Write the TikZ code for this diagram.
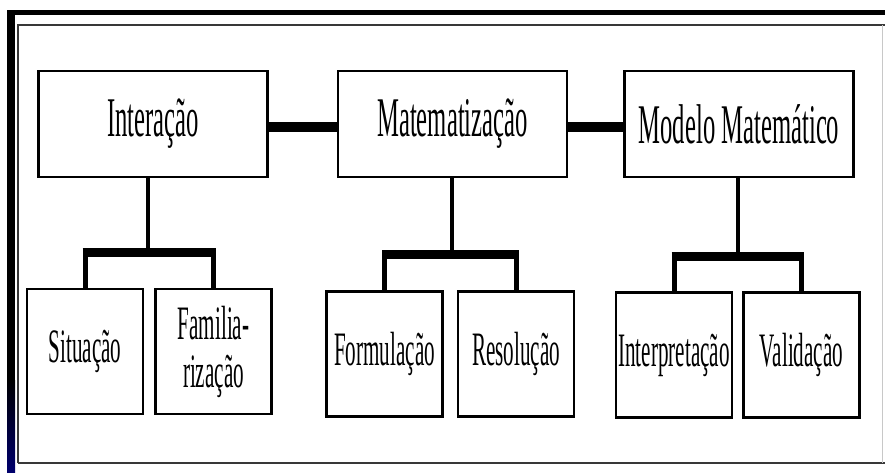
\documentclass[tikz,border=0pt]{standalone}
\usepackage{fontspec}
\setmainfont{Liberation Serif}
\newfontfamily\narrowserif[FakeStretch=0.44]{Liberation Serif}
\usepackage{tikz}
\usetikzlibrary{positioning,calc}
\definecolor{FrameNavy}{HTML}{00006E}
\definecolor{FrameGrey}{HTML}{383838}
\definecolor{EdgeGrey}{HTML}{C8C8C8}
\tikzset{
  % Top level box
  TB/.style={rectangle,draw=black,line width=2.5pt,fill=white,
             minimum width=229pt,minimum height=106pt,inner sep=2pt,
             text centered,align=center,
             font=\narrowserif\fontsize{56}{56}\selectfont},
  % Sub box
  SB/.style={rectangle,draw=black,line width=2.5pt,fill=white,
             minimum width=116pt,minimum height=125pt,inner sep=2pt,
             text centered,align=center,
             font=\narrowserif\fontsize{48}{48}\selectfont},
  % Connectors
  link/.style={line width=10pt},
  stem/.style={line width=4.5pt},
  bar/.style={line width=9pt,shorten <=-2.5pt,shorten >=-2.5pt},
  leg/.style={line width=5pt}
}
\begin{document}
\begin{tikzpicture}[x=1pt,y=-1pt]
  \useasboundingbox (0,0) rectangle (885,473);
  % Frame
  \fill[black] (7,10) rectangle (885,15);
  \fill[black] (7,10) rectangle (15,473);
  \shade[top color=black,bottom color=FrameNavy] (7,380) rectangle (15,473);
  \draw[line width=2.5pt,FrameGrey] (18,463) -- (18,25) -- (885,25);
  \draw[line width=2.5pt,FrameGrey] (18,463) -- (885,463);
  \draw[line width=1pt,EdgeGrey] (882,25) -- (882,463);

  % Top row
  \node[TB] (inter)  at (153,124) {Interação};
  \node[TB] (matem)  at (452.5,124) {Matematização};
  \node[TB] (modelo) at (739,124) {Modelo Matemático};
  \draw[link] ([yshift=-3pt]inter.east) -- ([yshift=-3pt]matem.west);
  \draw[link] ([yshift=-3pt]matem.east) -- ([yshift=-3pt]modelo.west);

  % Bottom row
  \node[SB] (situ)   at (85,351.5)  {Situação};
  \node[SB] (famil)  at (213.5,351.5) {Familia-\\rização};
  \node[SB] (formul) at (384.5,354) {Formulação};
  \node[SB] (resol)  at (516,354)   {Resolução};
  \node[SB] (interp) at (674,355)   {Interpretação};
  \node[SB] (valid)  at (801.5,355) {Validação};

  % Forks
  \coordinate (ihub) at (148,252.5);
  \coordinate (mhub) at (452,254);
  \coordinate (rhub) at (738,256);
  \draw[stem] (inter.south -| ihub) -- (ihub);
  \draw[stem] (matem.south -| mhub) -- (mhub);
  \draw[stem] (modelo.south -| rhub) -- (rhub);
  \draw[bar] (situ.north |- ihub) -- (famil.north |- ihub);
  \draw[bar] (formul.north |- mhub) -- (resol.north |- mhub);
  \draw[bar] (interp.north |- rhub) -- (valid.north |- rhub);
  \draw[leg] (situ.north |- ihub) -- (situ.north);
  \draw[leg] (famil.north |- ihub) -- (famil.north);
  \draw[leg] (formul.north |- mhub) -- (formul.north);
  \draw[leg] (resol.north |- mhub) -- (resol.north);
  \draw[leg] (interp.north |- rhub) -- (interp.north);
  \draw[leg] (valid.north |- rhub) -- (valid.north);
\end{tikzpicture}
\end{document}
